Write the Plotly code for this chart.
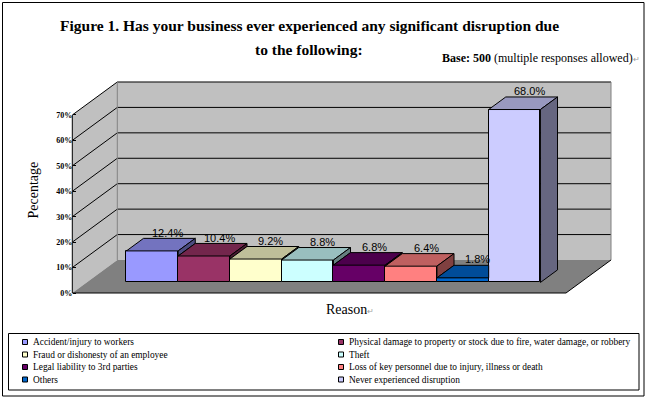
import plotly.graph_objects as go

# ---------------- data ----------------
categories = [
    "Accident/injury to workers",
    "Physical damage to property or stock due to fire, water damage, or robbery",
    "Fraud or dishonesty of an employee",
    "Theft",
    "Legal liability to 3rd parties",
    "Loss of key personnel due to injury, illness or death",
    "Others",
    "Never experienced disruption",
]
values = [12.4, 10.4, 9.2, 8.8, 6.8, 6.4, 1.8, 68.0]
tick_values = [0, 10, 20, 30, 40, 50, 60, 70]
tick_labels = ["0%", "10%", "20%", "30%", "40%", "50%", "60%", "70%"]

# ---------------- styles ----------------
front_colors = ["#9999FF", "#993366", "#FFFFCC", "#CCFFFF",
                "#660066", "#FF8080", "#0066CC", "#CCCCFF"]


def shade(hexcol, f):
    h = hexcol.lstrip("#")
    r, g, b = (int(h[i:i + 2], 16) for i in (0, 2, 4))
    return "rgb(%d,%d,%d)" % (round(r * f), round(g * f), round(b * f))


SERIF = "Liberation Serif, Times New Roman, serif"
SANS = "Liberation Sans, Arial, sans-serif"

# ---------------- layout geometry (pixels) ----------------
W, H = 647, 399
ML, MR, MT, MB = 69, 33, 76, 102
PW, PH = W - ML - MR, H - MT - MB
X0px, ux = 137.9, 51.75      # pixel of category 0 on the front plane, px per category
Y0px, uy = 293.0, 2.543      # pixel of 0% on the front plane, px per percent
x_range = [(ML - X0px) / ux, (W - MR - X0px) / ux]
y_range = [(Y0px - (H - MB)) / uy, (Y0px - MT) / uy]

XL = (72.3 - X0px) / ux      # front-left floor edge
XR = (566.0 - X0px) / ux     # front-right floor edge
DX, DY = 45.0 / ux, 33.0 / uy  # full depth of the 3-D box
TOP = tick_values[-1]
f0, f1 = 0.32, 0.70          # bar depth span (fraction of box depth)
sx, sy = f0 * DX, f0 * DY
bdx, bdy = (f1 - f0) * DX, (f1 - f0) * DY


def pxx(x):
    return (x - ML) / PW


def pxy(y):
    return (H - MB - y) / PH


fig = go.Figure()

n = len(values)
xs = [i + sx for i in range(n)]
fig.add_trace(go.Bar(
    x=xs, y=values, base=sy, width=1,
    marker=dict(color=front_colors, line=dict(color="black", width=1)),
    showlegend=False, hoverinfo="skip",
))

# top and side faces of the 3-D columns (visible parts only)
for i, v in enumerate(values):
    xl = i + sx - 0.5
    xr = xl + 1
    yb = sy + v
    nxt = values[i + 1] if i + 1 < n else None
    if nxt is not None and nxt > v:
        tx = [xl, xr, xr, xl + bdx, xl]
        ty = [yb, yb, yb + bdy, yb + bdy, yb]
    else:
        tx = [xl, xr, xr + bdx, xl + bdx, xl]
        ty = [yb, yb, yb + bdy, yb + bdy, yb]
    fig.add_trace(go.Scatter(
        x=tx, y=ty, mode="lines", fill="toself",
        fillcolor=shade(front_colors[i], 0.75),
        line=dict(color="black", width=1),
        showlegend=False, hoverinfo="skip",
    ))
    if nxt is None or v > nxt:
        low = sy + (nxt if nxt is not None else 0)
        fig.add_trace(go.Scatter(
            x=[xr, xr, xr + bdx, xr + bdx, xr],
            y=[low, yb, yb + bdy, low + bdy, low],
            mode="lines", fill="toself",
            fillcolor=shade(front_colors[i], 0.5),
            line=dict(color="black", width=1),
            showlegend=False, hoverinfo="skip",
        ))

shapes = []
# walls and floor
shapes.append(dict(type="path", xref="x", yref="y", layer="below",
                   path=f"M {XL},0 L {XL},{TOP} L {XL+DX},{TOP+DY} L {XL+DX},{DY} Z",
                   fillcolor="#C0C0C0", line=dict(width=0)))
shapes.append(dict(type="rect", xref="x", yref="y", layer="below",
                   x0=XL + DX, x1=XR + DX, y0=DY, y1=TOP + DY,
                   fillcolor="#C0C0C0", line=dict(width=0)))
shapes.append(dict(type="path", xref="x", yref="y", layer="below",
                   path=f"M {XL},0 L {XR},0 L {XR+DX},{DY} L {XL+DX},{DY} Z",
                   fillcolor="#808080", line=dict(width=0)))
for t in tick_values[1:]:
    shapes.append(dict(type="line", xref="x", yref="y", layer="below",
                       x0=XL + DX, x1=XR + DX, y0=t + DY, y1=t + DY,
                       line=dict(color="black", width=1)))
    shapes.append(dict(type="line", xref="x", yref="y", layer="below",
                       x0=XL, x1=XL + DX, y0=t, y1=t + DY,
                       line=dict(color="black", width=1)))
for xe in (XL + DX, XR + DX):
    shapes.append(dict(type="line", xref="x", yref="y", layer="below",
                       x0=xe, x1=xe, y0=DY, y1=TOP + DY,
                       line=dict(color="#808080", width=1)))
shapes.append(dict(type="line", xref="x", yref="y", layer="below",
                   x0=XL, x1=XR, y0=0, y1=0, line=dict(color="black", width=1)))
shapes.append(dict(type="line", xref="x", yref="y", layer="below",
                   x0=XR, x1=XR + DX, y0=0, y1=DY, line=dict(color="black", width=1)))
shapes.append(dict(type="line", xref="x", yref="y", layer="below",
                   x0=XL, x1=XL, y0=0, y1=TOP, line=dict(color="black", width=1)))

# outer frame and legend box
shapes.append(dict(type="rect", xref="paper", yref="paper",
                   x0=pxx(2.5), x1=pxx(644), y0=pxy(396), y1=pxy(2.5),
                   line=dict(color="black", width=1), fillcolor="rgba(0,0,0,0)"))
shapes.append(dict(type="rect", xref="paper", yref="paper",
                   x0=pxx(8.5), x1=pxx(639), y0=pxy(390), y1=pxy(333.5),
                   line=dict(color="black", width=1), fillcolor="rgba(0,0,0,0)"))

annotations = []
# custom legend (2 columns x 4 rows)
col_x = [25.0, 341.0]
row_y = [342.0, 354.5, 367.0, 379.5]
for i, name in enumerate(categories):
    cx = col_x[i % 2]
    cy = row_y[i // 2]
    shapes.append(dict(type="rect", xref="paper", yref="paper",
                       x0=pxx(cx - 2.5), x1=pxx(cx + 2.5),
                       y0=pxy(cy + 2.5), y1=pxy(cy - 2.5),
                       fillcolor=front_colors[i], line=dict(color="black", width=1)))
    annotations.append(dict(xref="paper", yref="paper", x=pxx(cx + 6), y=pxy(cy),
                            xanchor="left", yanchor="middle", showarrow=False,
                            text=name, font=dict(family=SERIF, size=9.4, color="black")))

# value labels
for i, v in enumerate(values):
    annotations.append(dict(xref="x", yref="y", x=i + sx + 0.29, y=sy + v + bdy + 2.3,
                            xanchor="center", yanchor="middle", showarrow=False,
                            text=f"{v:.1f}%", font=dict(family=SANS, size=11, color="black")))

# titles
annotations.append(dict(xref="paper", yref="paper", x=pxx(309), y=pxy(26),
                        xanchor="center", yanchor="middle", showarrow=False,
                        text="<b>Figure 1. Has your business ever experienced any significant disruption due</b>",
                        font=dict(family=SERIF, size=15.5, color="black")))
annotations.append(dict(xref="paper", yref="paper", x=pxx(309), y=pxy(50),
                        xanchor="center", yanchor="middle", showarrow=False,
                        text="<b>to the following:</b>",
                        font=dict(family=SERIF, size=15.5, color="black")))
annotations.append(dict(xref="paper", yref="paper", x=pxx(642), y=pxy(58),
                        xanchor="right", yanchor="middle", showarrow=False,
                        text="<b>Base: 500</b> (multiple responses allowed)"
                             "<span style='color:#A0A0A0;font-size:8px'>↵</span>",
                        font=dict(family=SERIF, size=12, color="black")))
annotations.append(dict(xref="paper", yref="paper", x=pxx(350), y=pxy(309),
                        xanchor="center", yanchor="middle", showarrow=False,
                        text="Reason<span style='color:#A0A0A0;font-size:8px'>↵</span>",
                        font=dict(family=SERIF, size=14, color="black")))
annotations.append(dict(xref="paper", yref="paper", x=pxx(32.5), y=pxy(190),
                        xanchor="center", yanchor="middle", showarrow=False,
                        textangle=-90, text="Pecentage",
                        font=dict(family=SERIF, size=14, color="black")))

fig.update_layout(
    width=W, height=H,
    margin=dict(l=ML, r=MR, t=MT, b=MB, pad=0),
    paper_bgcolor="white", plot_bgcolor="white",
    showlegend=False,
    xaxis=dict(range=x_range, visible=False, fixedrange=True),
    yaxis=dict(range=y_range, anchor="free", position=(72.3 - ML) / PW,
               tickmode="array", tickvals=tick_values, ticktext=tick_labels,
               ticks="inside", ticklen=3, tickcolor="black",
               showgrid=False, zeroline=False, showline=False,
               tickfont=dict(family=SERIF, size=8, color="black", weight="bold"),
               fixedrange=True),
    shapes=shapes,
    annotations=annotations,
    bargap=0,
)

fig.write_html(
    "out.html",
    config={"displayModeBar": False},
    post_script="document.body.style.margin='0';document.body.style.overflow='hidden';",
)
